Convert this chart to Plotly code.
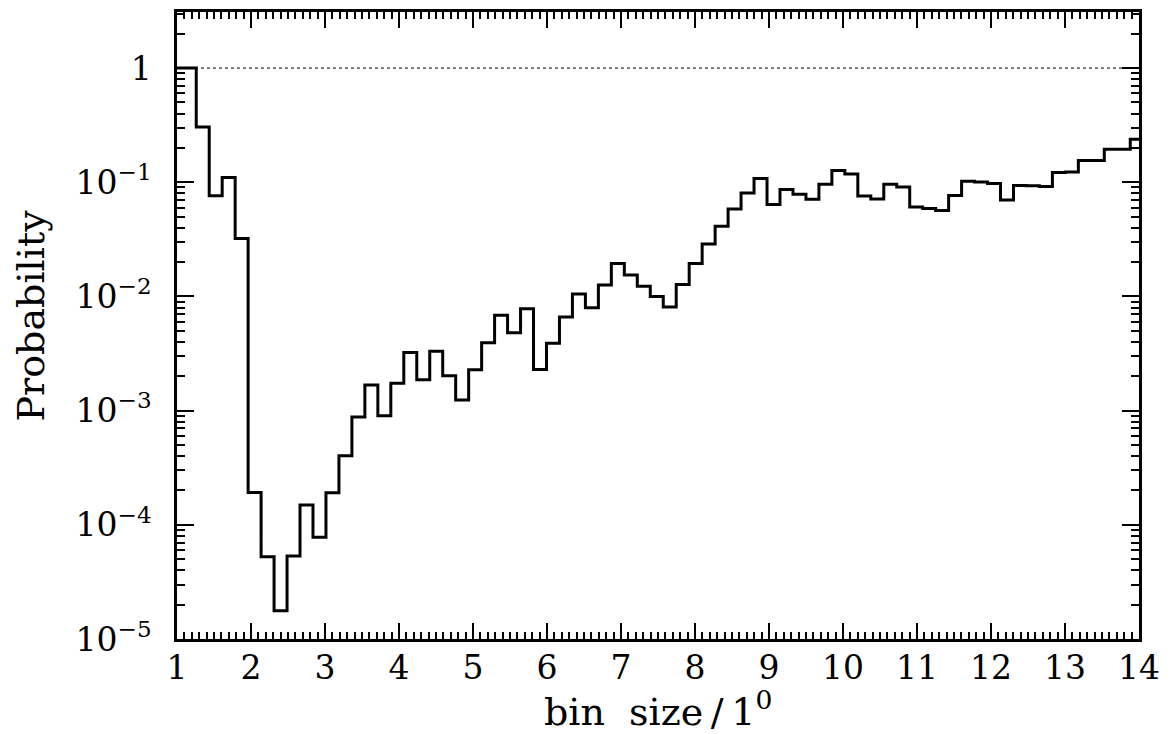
import numpy as np
import plotly.graph_objects as go

# ---- data ----
first_edge = 1.0
bin_start = 1.26
bin_width = 0.1753
probability = [
    1.0, 0.304, 0.0762, 0.110, 0.0321, 1.92e-4, 5.24e-5, 1.77e-5, 5.33e-5, 1.49e-4,
    7.8e-5, 1.91e-4, 4.03e-4, 8.8e-4, 1.68e-3, 9.0e-4, 1.74e-3, 3.23e-3, 1.86e-3, 3.31e-3,
    2.02e-3, 1.24e-3, 2.28e-3, 3.93e-3, 6.85e-3, 4.8e-3, 7.8e-3, 2.29e-3, 3.9e-3, 6.6e-3,
    1.05e-2, 7.96e-3, 1.26e-2, 1.94e-2, 1.54e-2, 1.23e-2, 1.0e-2, 8.1e-3, 1.27e-2, 1.94e-2,
    2.88e-2, 4.11e-2, 5.83e-2, 8.05e-2, 0.108, 0.0637, 0.0863, 0.0785, 0.071, 0.096,
    0.127, 0.118, 0.0759, 0.0714, 0.096, 0.091, 0.0608, 0.0588, 0.0565, 0.0764,
    0.102, 0.1006, 0.0973, 0.070, 0.0935, 0.093, 0.0917, 0.122, 0.123, 0.155,
    0.155, 0.195, 0.195, 0.238,
]
x_ticks = list(range(1, 15))
y_tickvals = [1, 1e-1, 1e-2, 1e-3, 1e-4, 1e-5]
y_ticktext = ["1", "10<sup>\u22121</sup>", "10<sup>\u22122</sup>", "10<sup>\u22123</sup>",
              "10<sup>\u22124</sup>", "10<sup>\u22125</sup>"]
x_title = "bin\u00a0\u00a0size\u2009/\u20091<sup>0</sup>"
y_title = "Probability"

edges = [first_edge] + [bin_start + bin_width * k for k in range(len(probability))]
step_y = probability + [probability[-1]]

FONT = "DejaVu Serif"

fig = go.Figure()
fig.add_trace(go.Scatter(
    x=[1, 14], y=[1, 1], mode="lines",
    line=dict(color="black", width=1, dash="dot"),
    hoverinfo="skip", showlegend=False,
))
fig.add_trace(go.Scatter(
    x=edges, y=step_y, mode="lines",
    line=dict(color="black", width=3, shape="hv"),
    showlegend=False,
))

# page body adds an 8px offset; compensate so the plot lands where the reference has it
fig.update_layout(
    width=1167, height=726,
    margin=dict(l=169, r=36, t=4, b=95),
    paper_bgcolor="white", plot_bgcolor="white",
    font=dict(family=FONT, color="black", size=34),
)
fig.update_xaxes(
    range=[1, 14], tickvals=x_ticks, ticktext=[str(v) for v in x_ticks],
    ticks="inside", ticklen=16, tickwidth=2, tickcolor="black",
    minor=dict(ticks="inside", dtick=0.1, ticklen=7, tickwidth=1.5, tickcolor="black"),
    showline=True, linewidth=2.5, linecolor="black", mirror="allticks",
    showgrid=False, zeroline=False, automargin=False,
    tickfont=dict(family=FONT, size=33),
    ticklabelstandoff=-2,
)
fig.update_yaxes(
    type="log", range=[-5, 0.491],
    tickvals=y_tickvals, ticktext=y_ticktext,
    ticks="inside", ticklen=17, tickwidth=2, tickcolor="black",
    minor=dict(ticks="inside", dtick="D1", ticklen=8, tickwidth=1.5, tickcolor="black"),
    showline=True, linewidth=2.5, linecolor="black", mirror="allticks",
    showgrid=False, zeroline=False, automargin=False,
    tickfont=dict(family=FONT, size=33),
    ticklabelstandoff=16,
)
fig.add_annotation(
    text=x_title, xref="paper", yref="paper", x=0.5, y=0,
    xanchor="center", yanchor="middle", yshift=-70, showarrow=False,
    font=dict(family=FONT, size=38, color="black"),
)
fig.add_annotation(
    text=y_title, xref="paper", yref="paper", x=0, y=0.5,
    xanchor="center", yanchor="middle", xshift=-147, yshift=10, textangle=-90,
    showarrow=False,
    font=dict(family=FONT, size=38, color="black"),
)

fig.write_html("out.html")
